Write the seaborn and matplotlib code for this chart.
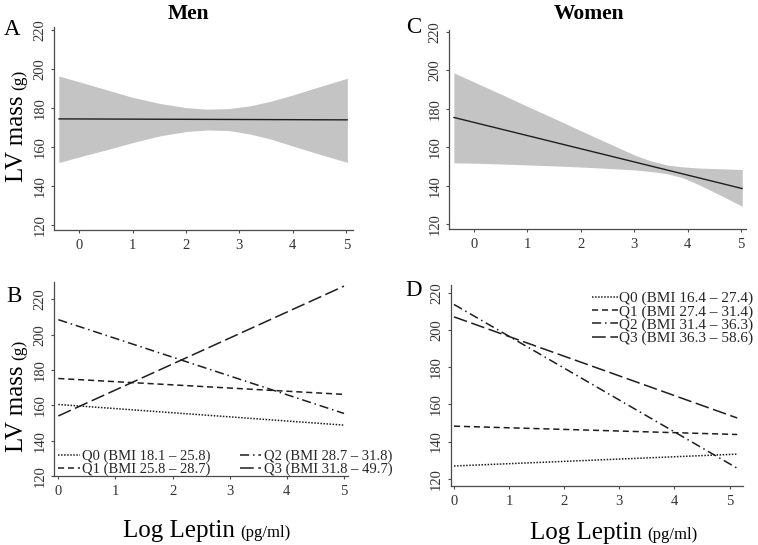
import numpy as np
import pandas as pd
import seaborn as sns
from matplotlib import pyplot as plt

# ---- data ----
# Panel A (men) fitted line + confidence band
men_fit_x = [-0.38, 5.02]
men_fit_y = [174.5, 174.0]
men_band_x = [-0.38, 0, 0.5, 1, 1.5, 2, 2.4, 2.8, 3.2, 3.6, 4, 4.5, 5.02]
men_band_hi = [196.6, 193.6, 189.6, 185.6, 182.5, 180.3, 179.5, 179.8, 181.2, 183.7, 186.8, 191.1, 195.4]
men_band_lo = [152.0, 154.9, 158.5, 162.3, 165.7, 168.0, 168.8, 168.5, 166.7, 164.0, 160.5, 156.3, 152.1]

# Panel C (women) fitted line + confidence band
women_fit_x = [-0.375, 5.02]
women_fit_y = [175.5, 138.5]
women_band_x = [-0.375, 0, 0.5, 1, 1.5, 2, 2.5, 3, 3.3, 3.6, 3.9, 4.2, 4.6, 5.02]
women_band_hi = [198.7, 194.0, 187.7, 181.3, 175.0, 168.6, 162.3, 156.0, 153.0, 150.8, 149.8, 149.2, 148.8, 148.4]
women_band_lo = [151.9, 151.7, 151.3, 150.8, 150.3, 149.7, 149.0, 148.2, 147.4, 146.3, 144.2, 140.6, 135.2, 129.3]

# Panel B (men) one line per BMI quartile
men_q_x = [0, 5]
men_q_labels = ['Q0 (BMI 18.1 – 25.8)', 'Q1 (BMI 25.8 – 28.7)',
                'Q2 (BMI 28.7 – 31.8)', 'Q3 (BMI 31.8 – 49.7)']
men_q0 = [160.5, 148.8]
men_q1 = [175.2, 166.2]
men_q2 = [208.5, 155.4]
men_q3 = [154.0, 227.5]

# Panel D (women) one line per BMI quartile
women_q_x = [0, 5.14]
women_q_labels = ['Q0 (BMI 16.4 – 27.4)', 'Q1 (BMI 27.4 – 31.4)',
                  'Q2 (BMI 31.4 – 36.3)', 'Q3 (BMI 36.3 – 58.6)']
women_q0 = [126.8, 133.2]
women_q1 = [148.3, 143.8]
women_q2 = [214.0, 125.6]
women_q3 = [207.3, 152.7]

y_ticks = [120, 140, 160, 180, 200, 220]
x_ticks = [0, 1, 2, 3, 4, 5]

# ---- figure setup ----
sns.set_theme(style="ticks")
plt.rcParams['font.family'] = ['Liberation Serif', 'DejaVu Serif']

W, H = 758, 545
fig = plt.figure(figsize=(W / 100, H / 100), dpi=100)
fig.patch.set_facecolor('white')

ink = '#1e1e1e'
spine_col = '#4a4a4a'
q_styles = [(0, (1, 1)), (0, (4, 2.5)), (0, (6, 2.5, 1, 2.5)), (0, (9, 3))]


def px_axes(l, t, r, b):
    # axes rectangle given in pixel coordinates from top-left
    return fig.add_axes([l / W, 1 - b / H, (r - l) / W, (b - t) / H])


def style_ax(ax, xlim, ylim):
    ax.set_facecolor('white')
    ax.set_xlim(*xlim)
    ax.set_ylim(*ylim)
    sns.despine(ax=ax)
    for s in ['left', 'bottom']:
        ax.spines[s].set_color(spine_col)
        ax.spines[s].set_linewidth(0.9)
    ax.set_xticks(x_ticks)
    ax.set_yticks(y_ticks)
    ax.tick_params(axis='both', colors=spine_col, length=2.5, width=0.8,
                   labelsize=10.5, labelcolor='#333333')
    ax.tick_params(axis='x', pad=4)
    ax.tick_params(axis='y', pad=3, labelrotation=90)
    for lab in ax.get_yticklabels():
        lab.set_va('center')
    ax.set_xlabel('')
    ax.set_ylabel('')
    ax.grid(False)


def fx(px):
    return px / W


def fy(py):
    return 1 - py / H


# Panel A
axA = px_axes(54, 27, 352.7, 230)
axA.fill_between(men_band_x, men_band_lo, men_band_hi, color='#c4c4c4', lw=0)
sns.lineplot(x=men_fit_x, y=men_fit_y, ax=axA, color=ink, lw=1.0)
style_ax(axA, (-0.47, 5.12), (117.3, 221.8))

# Panel C
axC = px_axes(449.3, 30, 746, 229.3)
axC.fill_between(women_band_x, women_band_lo, women_band_hi, color='#c4c4c4', lw=0)
sns.lineplot(x=women_fit_x, y=women_fit_y, ax=axC, color=ink, lw=1.0)
style_ax(axC, (-0.46, 5.09), (117.3, 221.0))

# Panel B
axB = px_axes(54.3, 281.7, 348.3, 476)
for vals, lab, ls in zip([men_q0, men_q1, men_q2, men_q3], men_q_labels, q_styles):
    sns.lineplot(x=men_q_x, y=vals, ax=axB, color=ink, lw=1.1, linestyle=ls, label=lab)
style_ax(axB, (-0.07, 5.075), (120, 230))
axB.legend(loc='lower left', bbox_to_anchor=(0.012, 0.0), ncol=2, frameon=False,
           fontsize=10.5, borderpad=0, borderaxespad=0, handlelength=1.5,
           handletextpad=0.15, columnspacing=2.0, labelspacing=-0.02)

# Panel D
axD = px_axes(450.7, 285, 743.3, 486)
for vals, lab, ls in zip([women_q0, women_q1, women_q2, women_q3], women_q_labels, q_styles):
    sns.lineplot(x=women_q_x, y=vals, ax=axD, color=ink, lw=1.1, linestyle=ls, label=lab)
style_ax(axD, (-0.06, 5.25), (116, 224.5))
axD.legend(loc='upper right', bbox_to_anchor=(1.035, 0.968), ncol=1, frameon=False,
           fontsize=11, borderpad=0, borderaxespad=0, handlelength=1.65,
           handletextpad=0.12, labelspacing=-0.04)

# titles and panel letters
fig.text(fx(188), fy(19.3), 'Men', ha='center', va='baseline', fontsize=15.5,
         fontweight='bold', color='black')
fig.text(fx(589), fy(19.3), 'Women', ha='center', va='baseline', fontsize=15.5,
         fontweight='bold', color='black')
for letter, x0, y0 in [('A', 4, 35), ('C', 406, 33.3), ('B', 6.7, 301.7), ('D', 405, 296)]:
    fig.text(fx(x0), fy(y0), letter, ha='left', va='baseline', fontsize=16.5, color='black')

renderer = fig.canvas.get_renderer()

# y labels "LV mass (g)" with smaller unit
for y_bottom in [182, 451.7]:
    t1 = fig.text(fx(23), fy(y_bottom), 'LV mass', rotation=90, rotation_mode='anchor',
                  ha='left', va='baseline', fontsize=18, color='black')
    bb = t1.get_window_extent(renderer)
    fig.text(fx(23), (bb.y1 + 5) / H, '(g)', rotation=90, rotation_mode='anchor',
             ha='left', va='baseline', fontsize=12.5, color='black')

# x labels "Log Leptin (pg/ml)"
for x_left, base in [(123, 536.7), (530, 539)]:
    t1 = fig.text(fx(x_left), fy(base), 'Log Leptin', ha='left', va='baseline',
                  fontsize=18, color='black')
    bb = t1.get_window_extent(renderer)
    fig.text((bb.x1 + 5) / W, fy(base), '(pg/ml)', ha='left', va='baseline',
             fontsize=12, color='black')

fig.savefig('out.png', dpi=100, facecolor='white')
